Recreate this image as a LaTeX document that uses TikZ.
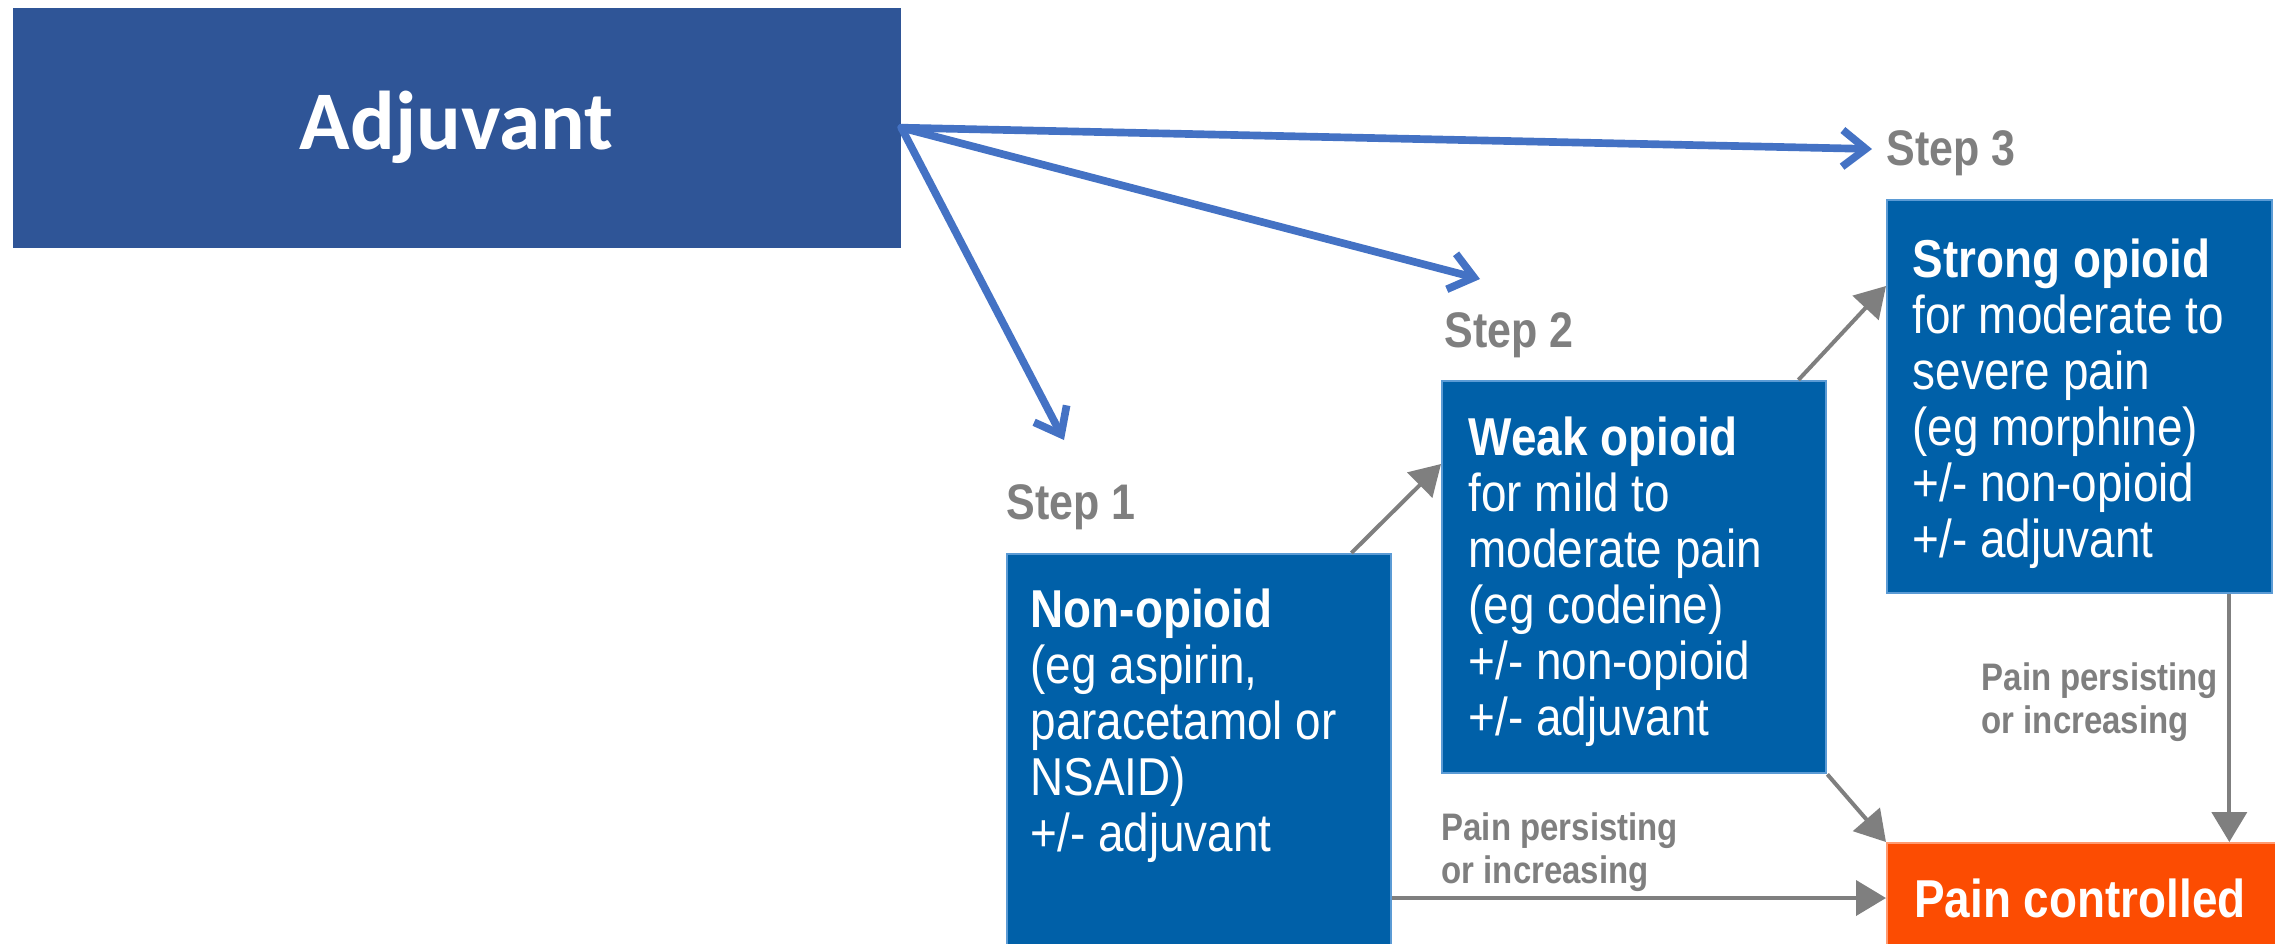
\documentclass[tikz,border=0pt]{standalone}
\usepackage{fontspec}
\setmainfont{Liberation Sans}
\newfontfamily\condfont[FakeStretch=0.86]{Liberation Sans}
\newfontfamily\calfont{Carlito}
\usetikzlibrary{arrows.meta}
\definecolor{adjblue}{HTML}{2F5597}
\definecolor{arrblue}{HTML}{4472C4}
\definecolor{boxblue}{HTML}{0060A8}
\definecolor{boxedge}{HTML}{5B9BD5}
\definecolor{stepgray}{HTML}{7F7F7F}
\definecolor{painorange}{HTML}{FC4C02}
\definecolor{orangeedge}{HTML}{FF9A70}
\begin{document}
\begin{tikzpicture}[x=0.3pt,y=-0.3pt,
  stepbox/.style={draw=boxedge, line width=0.7pt, fill=boxblue, anchor=north west, inner sep=0pt, minimum width=115.2pt},
  boxtext/.style={anchor=north west, inner sep=0pt, align=left, text=white, font=\condfont\fontsize{16}{16.8}\selectfont},
  steplabel/.style={anchor=base west, inner sep=0pt, text=stepgray, font=\condfont\bfseries\fontsize{15}{18}\selectfont},
  persist/.style={anchor=north west, inner sep=0pt, align=left, text=stepgray, font=\condfont\bfseries\fontsize{11.5}{13}\selectfont},
  bluearrow/.style={draw=arrblue, line width=2.3pt, -{Straight Barb[length=7pt,width=11pt]}, line cap=round},
  grayarrow/.style={draw=stepgray, line width=1.2pt, -{Triangle[length=9pt,width=10.5pt]}}
]
\useasboundingbox (0,0) rectangle (2275,943);

% Adjuvant box
\node[fill=adjblue, anchor=north west, inner sep=0pt, minimum width=266.4pt, minimum height=72pt,
      text=white, font=\calfont\bfseries\fontsize{25}{30}\selectfont] (adj) at (12,7) {Adjuvant};

% step boxes
\node[stepbox, minimum height=120pt] (b1) at (1006,553) {};
\node[stepbox, minimum height=117.6pt] (b2) at (1441,380) {};
\node[stepbox, minimum height=117.9pt, minimum width=115.5pt] (b3) at (1886,199) {};
\node[fill=painorange, draw=orangeedge, line width=0.7pt, anchor=north west, inner sep=0pt,
      minimum width=120pt, minimum height=33pt] (pain) at (1886,842) {};

% box texts
\node[boxtext] (t1) at (1030,588) {\textbf{Non-opioid}\\(eg aspirin,\\paracetamol or\\NSAID)\\+/- adjuvant};
\node[boxtext] (t2) at (1468,416) {\textbf{Weak opioid}\\for mild to\\moderate pain\\(eg codeine)\\+/- non-opioid\\+/- adjuvant};
\node[boxtext] (t3) at (1912,238) {\textbf{Strong opioid}\\for moderate to\\severe pain\\(eg morphine)\\+/- non-opioid\\+/- adjuvant};
\node[inner sep=0pt, text=white, font=\condfont\bfseries\fontsize{16}{18}\selectfont] (pt) at (2080,898) {Pain controlled};

% step labels
\node[steplabel] (s1) at (1006,519) {Step 1};
\node[steplabel] (s2) at (1444,347) {Step 2};
\node[steplabel] (s3) at (1886,165) {Step 3};

% persisting labels
\node[persist] (pa) at (1441,812) {Pain persisting\\or increasing};
\node[persist] (pb) at (1981,662) {Pain persisting\\or increasing};

% blue arrows
\coordinate (c1) at (1064,440);
\coordinate (c2) at (1480,279);
\coordinate (c3) at (1872,149);
\draw[bluearrow] (adj.east) -- (c3);
\draw[bluearrow] (adj.east) -- (c2);
\draw[bluearrow] (adj.east) -- (c1);

% gray arrows
\draw[grayarrow] ([xshift=-12.3pt]b1.north east) -- ([yshift=-25.2pt]b2.north west);
\draw[grayarrow] ([xshift=-8.7pt]b2.north east) -- ([yshift=-26.1pt]b3.north west);
\draw[grayarrow] (b2.south east) -- (pain.north west);
\draw[grayarrow] ([xshift=-13.2pt]b3.south east) -- ([xshift=-13.2pt]b3.south east |- pain.north);
\draw[grayarrow] (b1.east |- pt) -- (pain.west |- pt);
\end{tikzpicture}
\end{document}
